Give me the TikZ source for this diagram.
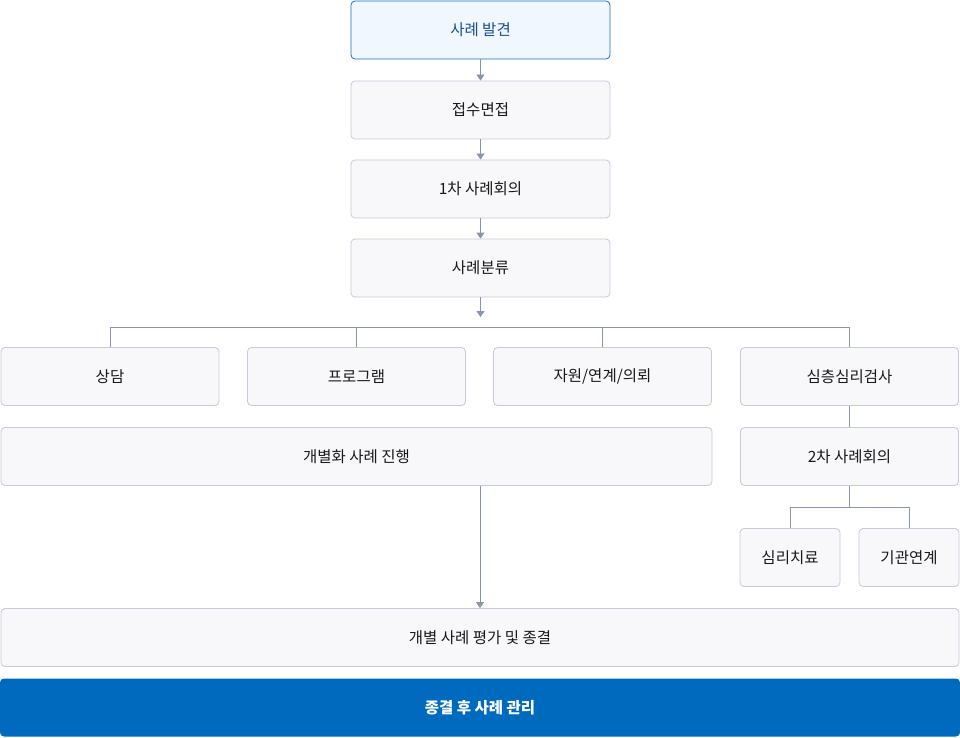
\documentclass[tikz,border=0pt]{standalone}
\usepackage{fontspec}
\setmainfont{Noto Sans CJK KR}
\usepackage{tikz}
\usetikzlibrary{arrows.meta,positioning,calc}
\definecolor{boxfill}{HTML}{F8F8FA}
\definecolor{boxline}{HTML}{C6CADA}
\definecolor{linkline}{HTML}{8A93B0}
\definecolor{startfill}{HTML}{F0F7FE}
\definecolor{startline}{HTML}{1A6DC0}
\definecolor{starttext}{HTML}{1B4E96}
\definecolor{endfill}{HTML}{006ABE}

\begin{document}
\begin{tikzpicture}[
  x=1pt, y=-1pt,
  box/.style={draw=boxline, fill=boxfill, rounded corners=4pt, line width=0.8pt,
              minimum height=58pt, minimum width=218pt, inner sep=0pt,
              font=\fontsize{15.5pt}{18pt}\selectfont, text=black!90},
  startbox/.style={box, draw=startline, fill=startfill, text=starttext},
  endbox/.style={box, draw=none, fill=endfill, text=white,
                 font=\fontsize{15.5pt}{18pt}\selectfont\bfseries},
  arrow/.style={-{Triangle[width=8pt,length=6pt]}, line width=0.8pt, linkline},
  link/.style={line width=0.8pt, linkline}
]
\useasboundingbox (0,0) rectangle (960,738);

% main column
\node[startbox, minimum width=259pt] (found)    at (480.5,30)  {사례 발견};
\node[box, minimum width=259pt]      (intake)   at (480.5,110) {접수면접};
\node[box, minimum width=259pt]      (conf1)    at (480.5,189) {1차 사례회의};
\node[box, minimum width=259pt]      (classify) at (480.5,268) {사례분류};

% services
\node[box] (counsel)  at (110,376.5)   {상담};
\node[box] (program)  at (356.5,376.5) {프로그램};
\node[box] (resource) at (602.5,376.5) {자원/연계/의뢰};
\node[box] (deep)     at (849.5,376.5) {심층심리검사};

\node[box, minimum width=711pt] (individual) at (356.5,456.5) {개별화 사례 진행};
\node[box] (conf2) at (849.5,456.5) {2차 사례회의};
\node[box, minimum width=100pt] (therapy) at (790,557.5) {심리치료};
\node[box, minimum width=100pt] (linkage) at (909,557.5) {기관연계};

\node[box, minimum width=958pt] (evaluate)  at (480,637.5) {개별 사례 평가 및 종결};
\node[endbox, minimum width=960pt] (aftercare) at (480,707.5) {종결 후 사례 관리};

\draw[arrow] (found) -- (intake);
\draw[arrow] (intake) -- (conf1);
\draw[arrow] (conf1) -- (classify);
\coordinate (split) at (480.5,317);
\draw[arrow] (classify) -- (split);

\draw[link] (counsel.north) -- ++(0,-20) -| (deep.north);
\draw[link] (program.north) -- ++(0,-20);
\draw[link] (resource.north) -- ++(0,-20);

\draw[link] (deep) -- (conf2);
\draw[link] (conf2.south) -- ++(0,21) coordinate (fork);
\draw[link] (therapy.north) |- (fork) -| (linkage.north);

\draw[arrow] (individual.south -| evaluate.north) -- (evaluate.north);
\end{tikzpicture}
\end{document}
